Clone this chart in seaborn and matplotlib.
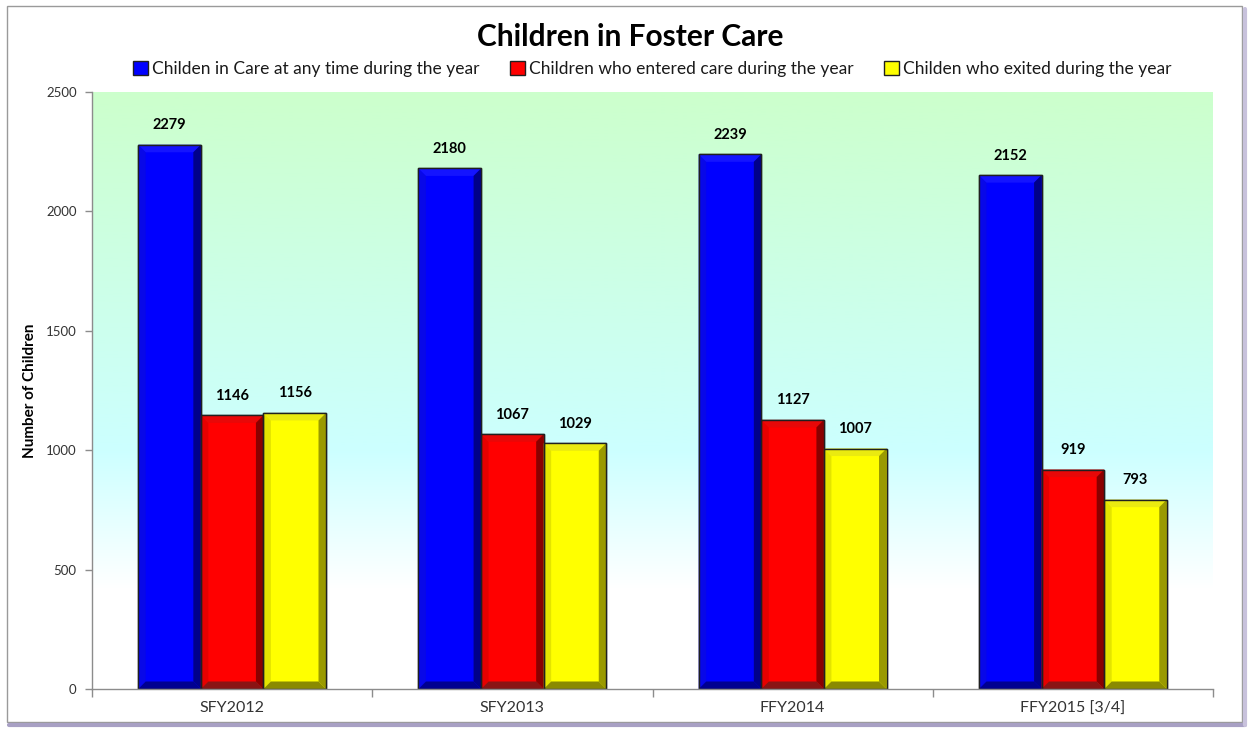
import numpy as np
import pandas as pd
import seaborn as sns
import matplotlib.pyplot as plt
from matplotlib.patches import Polygon, Rectangle
from matplotlib.lines import Line2D

# Children in foster care by fiscal year
years = ["SFY2012", "SFY2013", "FFY2014", "FFY2015 [3/4]"]
in_care = [2279, 2180, 2239, 2152]
entered = [1146, 1067, 1127, 919]
exited = [1156, 1029, 1007, 793]
series = [
    "Childen in Care at any time during the year",
    "Children who entered care during the year",
    "Childen who exited during the year",
]
y_ticks = [0, 500, 1000, 1500, 2000, 2500]

df = pd.DataFrame({
    "Year": years * 3,
    "Series": np.repeat(series, len(years)),
    "Count": in_care + entered + exited,
})

face = ["#0000FF", "#FF0000", "#FFFF00"]
# bevel shades: left, top, right, bottom
bevel = [
    ("#0808E8", "#1414FF", "#00008A", "#000090"),
    ("#E60000", "#E80808", "#8A0000", "#8A1414"),
    ("#E4E400", "#EAEA10", "#9A9A00", "#8A8A00"),
]

sns.set_theme(style="white")
plt.rcParams["font.family"] = ["Lato", "DejaVu Sans"]

W, H = 1250, 729
fig = plt.figure(figsize=(W / 100, H / 100), dpi=100)
fig.patch.set_facecolor("white")
L, R, T, B = 92, 1213, 92, 689
ax = fig.add_axes([L / W, 1 - B / H, (R - L) / W, (B - T) / H])

# vertical background gradient: green -> cyan -> white
vals = np.linspace(0, 2500, 400)
stops_v = [0, 420, 1000, 2500]
stops_c = np.array([[1, 1, 1], [1, 1, 1], [0.80, 1.0, 1.0], [0.80, 1.0, 0.80]])
grad = np.stack([np.interp(vals, stops_v, stops_c[:, k]) for k in range(3)], axis=-1)
grad = grad[:, None, :]

sns.barplot(data=df, x="Year", y="Count", hue="Series", palette=face,
            width=0.67, gap=0, edgecolor="#202020", linewidth=1.0,
            saturation=1, ax=ax, zorder=2)
ax.imshow(grad, extent=[-0.5, 3.5, 0, 2500], aspect="auto", origin="lower", zorder=0)
ax.set_xlim(-0.5, 3.5)
ax.set_ylim(0, 2500)

# bevelled faces on each bar
dx = 7.5 * 4.0 / (R - L)
dy = 7.5 * 2500.0 / (B - T)
for si, cont in enumerate(ax.containers):
    lc, tc, rc, bc = bevel[si]
    for p in cont.patches:
        x0 = p.get_x(); w = p.get_width(); h = p.get_height(); x1 = x0 + w
        polys = [
            ([(x0, 0), (x0 + dx, dy), (x0 + dx, h - dy), (x0, h)], lc),
            ([(x0, h), (x0 + dx, h - dy), (x1 - dx, h - dy), (x1, h)], tc),
            ([(x1, 0), (x1 - dx, dy), (x1 - dx, h - dy), (x1, h)], rc),
            ([(x0, 0), (x0 + dx, dy), (x1 - dx, dy), (x1, 0)], bc),
        ]
        for pts, c in polys:
            ax.add_patch(Polygon(pts, closed=True, facecolor=c, edgecolor="none", zorder=3))
        ax.add_patch(Rectangle((x0, 0), w, h, fill=False, edgecolor="#202020",
                               linewidth=1.0, zorder=4))
    ax.bar_label(cont, padding=9, fontsize=10.5, fontweight="bold", color="black", zorder=5)

# axes styling
for s in ["top", "right"]:
    ax.spines[s].set_visible(False)
for s in ["left", "bottom"]:
    ax.spines[s].set_color("#8c8c8c")
    ax.spines[s].set_linewidth(1.0)
    ax.spines[s].set_zorder(6)

ax.set_yticks(y_ticks)
ax.set_yticklabels([str(v) for v in y_ticks], fontsize=9.5, color="#333333")
ax.tick_params(axis="y", which="major", direction="out", length=5, width=1,
               color="#8c8c8c", left=True, pad=6)

ax.set_xticks(np.arange(-0.5, 4.0, 1.0))
ax.set_xticklabels([""] * 5)
ax.set_xticks(np.arange(len(years)), minor=True)
ax.set_xticklabels(years, minor=True, fontsize=11.5, color="#333333")
ax.tick_params(axis="x", which="major", direction="out", length=6, width=1,
               color="#8c8c8c", bottom=True)
ax.tick_params(axis="x", which="minor", length=0, pad=9)

ax.set_xlabel("")
ax.set_ylabel("Number of Children", fontsize=11, fontweight="bold", color="black")
ax.yaxis.set_label_coords(-0.049, 0.5)

# legend across the top
handles = [Rectangle((0, 0), 1, 1, facecolor=face[i], edgecolor="#202020", linewidth=1.0)
           for i in range(3)]
if ax.get_legend() is not None:
    ax.get_legend().remove()
fig.legend(handles, series, loc="center", bbox_to_anchor=(0.522, 1 - 69 / H),
           ncol=3, frameon=False, fontsize=12.5, handlelength=0.85, handleheight=0.85,
           handletextpad=0.25, columnspacing=1.75, labelcolor="#1a1a1a")

fig.text(0.504, 1 - 37 / H, "Children in Foster Care", ha="center", va="center",
         fontsize=21.5, fontweight="bold", color="black")

# chart frame with a soft shadow
fig.patches.append(Rectangle((7 / W, 1 - 722 / H), (1242 - 7) / W, (722 - 6) / H,
                             transform=fig.transFigure, fill=False,
                             edgecolor="#9a9a9a", linewidth=1.0))
fig.lines.append(Line2D([9 / W, 1245 / W], [1 - 725 / H, 1 - 725 / H],
                        transform=fig.transFigure, color="#a8a0c4", linewidth=3))
fig.lines.append(Line2D([1245 / W, 1245 / W], [1 - 725 / H, 1 - 9 / H],
                        transform=fig.transFigure, color="#c8c2dc", linewidth=3))

fig.savefig("out.png", dpi=100)
